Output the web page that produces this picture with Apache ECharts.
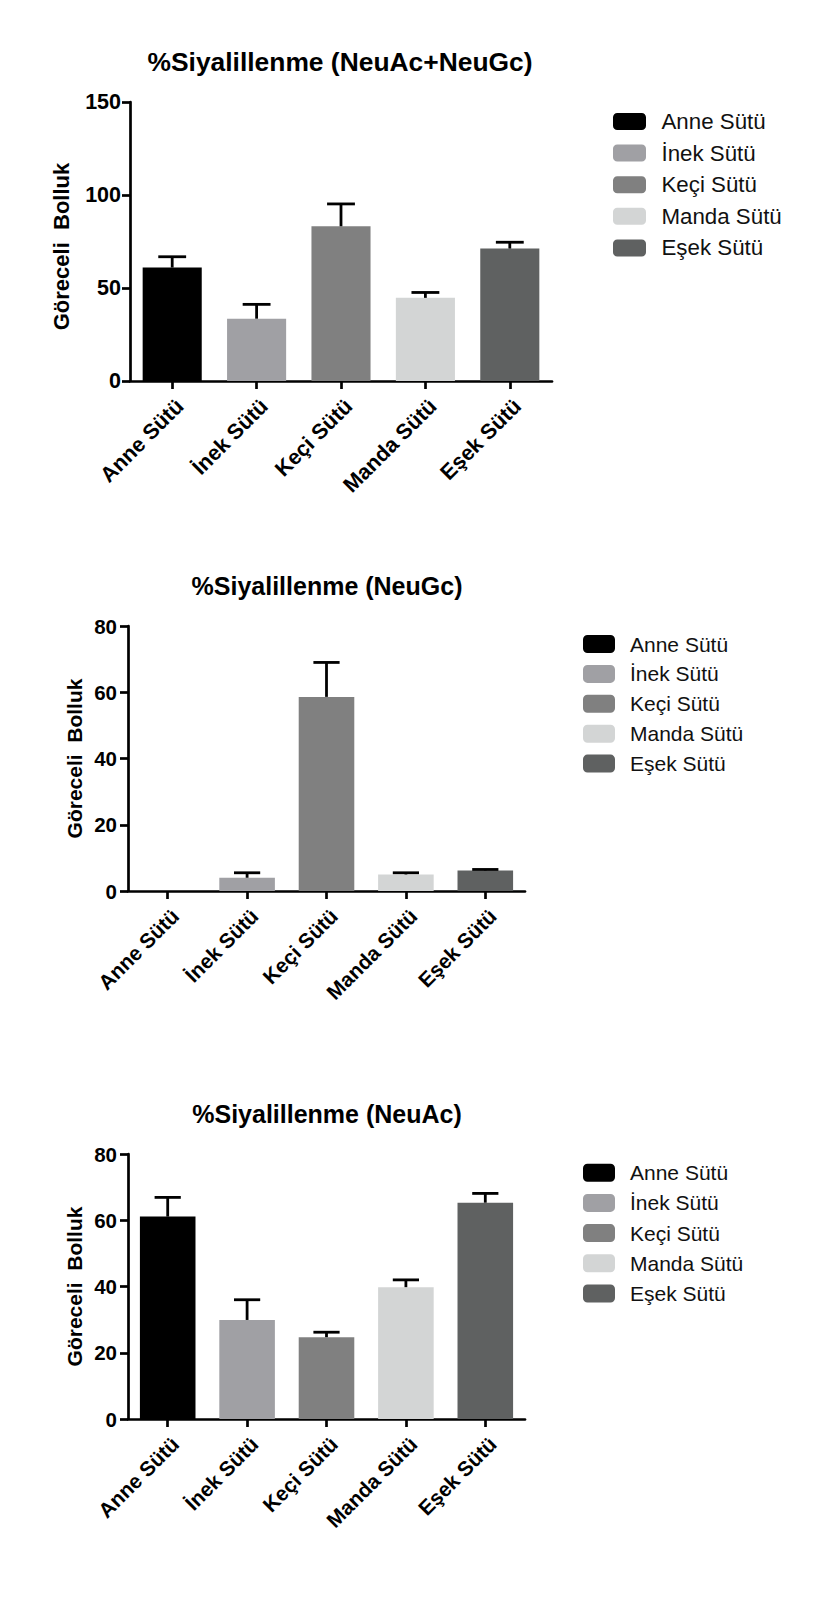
<!DOCTYPE html>
<html>
<head>
<meta charset="utf-8">
<script src="https://cdn.jsdelivr.net/npm/echarts@6/dist/echarts.min.js"></script>
<style>
html,body{margin:0;padding:0;background:#ffffff;}
#c{width:813px;height:1597px;}
</style>
</head>
<body>
<div id="c"></div>
<script>
// ---------- data ----------
const categories = ['Anne Sütü', 'İnek Sütü', 'Keçi Sütü', 'Manda Sütü', 'Eşek Sütü'];
const barColors = ['#000000', '#a0a0a4', '#808080', '#d3d5d5', '#5f6161'];

const titles = ['%Siyalillenme (NeuAc+NeuGc)', '%Siyalillenme (NeuGc)', '%Siyalillenme (NeuAc)'];
const yAxisName = 'Göreceli  Bolluk';

// mean values and standard deviations (upper error bar only)
const totalMean = [61.0, 33.5, 83.2, 44.7, 71.2];
const totalSD   = [5.8, 7.7, 12.0, 2.9, 3.4];

const neugcMean = [0, 4.0, 58.6, 5.0, 6.2];
const neugcSD   = [0, 1.5, 10.4, 0.5, 0.3];

const neuacMean = [61.1, 29.9, 24.7, 39.8, 65.3];
const neuacSD   = [5.8, 6.1, 1.5, 2.2, 2.8];

// y tick labels
const yTicksTotal = [0, 50, 100, 150];
const yTicksNeuGc = [0, 20, 40, 60, 80];
const yTicksNeuAc = [0, 20, 40, 60, 80];

// ---------- layout ----------
const FONT = '"Liberation Sans", Arial, Helvetica, sans-serif';
const panels = [
  { title: titles[0], mean: totalMean, sd: totalSD, ticks: yTicksTotal,
    grid: { left: 130, top: 102, width: 422, height: 279 },
    titleX: 335, titleTop: 44, titleFs: 26.4, tickFs: 21.5, xFs: 21.5, xMargin: 14, nameFs: 22, nameGap: 58, namePad: [0, 10, 0, 0],
    yLabelMargin: 9, legend: { left: 613, top: 110.5, iw: 33, ih: 17, gap: 9.6, fs: 22.3, pad: 10.5 } },
  { title: titles[1], mean: neugcMean, sd: neugcSD, ticks: yTicksNeuGc,
    grid: { left: 128, top: 626, width: 397, height: 265 },
    titleX: 322, titleTop: 568, titleFs: 25, tickFs: 20.5, xFs: 20.8, xMargin: 14, nameFs: 21, nameGap: 43, namePad: [0, 0, 0, 0],
    yLabelMargin: 11, legend: { left: 583, top: 633.5, iw: 32, ih: 18, gap: 8.9, fs: 21, pad: 10 } },
  { title: titles[2], mean: neuacMean, sd: neuacSD, ticks: yTicksNeuAc,
    grid: { left: 128, top: 1154, width: 397, height: 265 },
    titleX: 322, titleTop: 1096, titleFs: 25, tickFs: 20.5, xFs: 20.8, xMargin: 14, nameFs: 21, nameGap: 43, namePad: [0, 0, 0, 0],
    yLabelMargin: 11, legend: { left: 583, top: 1162.2, iw: 32, ih: 18, gap: 9.2, fs: 21, pad: 10 } }
];

const option = {
  backgroundColor: '#ffffff',
  animation: false,
  textStyle: { fontFamily: FONT },
  title: [], grid: [], xAxis: [], yAxis: [], legend: [], series: []
};

panels.forEach((p, pi) => {
  option.title.push({
    text: p.title, left: p.titleX, top: p.titleTop, textAlign: 'center',
    textStyle: { fontFamily: FONT, fontSize: p.titleFs, fontWeight: 'bold', color: '#000' }
  });
  option.grid.push(Object.assign({ containLabel: false }, p.grid));
  option.xAxis.push({
    type: 'category', gridIndex: pi, data: categories, boundaryGap: true,
    axisLine: { show: true, lineStyle: { color: '#000', width: 2.7 } },
    axisTick: { show: true, alignWithLabel: true, length: 8, lineStyle: { color: '#000', width: 2.7 } },
    axisLabel: { interval: 0, rotate: 45, margin: p.xMargin, align: 'right', verticalAlign: 'top',
      fontFamily: FONT, fontSize: p.xFs, fontWeight: 'bold', color: '#000' },
    splitLine: { show: false }
  });
  const t = p.ticks;
  option.yAxis.push({
    type: 'value', gridIndex: pi, min: t[0], max: t[t.length - 1], interval: t[1] - t[0],
    name: yAxisName, nameLocation: 'middle', nameRotate: 90, nameGap: p.nameGap,
    nameTextStyle: { fontFamily: FONT, fontSize: p.nameFs, fontWeight: 'bold', color: '#000', padding: p.namePad },
    axisLine: { show: true, lineStyle: { color: '#000', width: 2.7 } },
    axisTick: { show: true, length: 8, lineStyle: { color: '#000', width: 2.7 } },
    axisLabel: { margin: p.yLabelMargin, fontFamily: FONT, fontSize: p.tickFs, fontWeight: 'bold', color: '#000' },
    splitLine: { show: false }
  });
  option.legend.push({
    orient: 'vertical', left: p.legend.left, top: p.legend.top, padding: 0,
    itemWidth: p.legend.iw, itemHeight: p.legend.ih, itemGap: p.legend.gap,
    icon: 'roundRect', data: categories, selectedMode: false,
    textStyle: { fontFamily: FONT, fontSize: p.legend.fs, color: '#111',
      padding: [0, 0, 0, p.legend.pad] }
  });
  categories.forEach((c, ci) => {
    option.series.push({
      type: 'bar', name: c, xAxisIndex: pi, yAxisIndex: pi, stack: 'p' + pi,
      barWidth: '70%', itemStyle: { color: barColors[ci] },
      data: categories.map((_, k) => (k === ci ? p.mean[k] : '-'))
    });
  });
  const errData = [];
  p.mean.forEach((m, k) => { if (p.sd[k] > 0) errData.push([k, m, m + p.sd[k]]); });
  option.series.push({
    type: 'custom', name: 'err' + pi, xAxisIndex: pi, yAxisIndex: pi, z: 5,
    data: errData,
    renderItem: function (params, api) {
      const idx = api.value(0);
      const p0 = api.coord([idx, api.value(1)]);
      const p1 = api.coord([idx, api.value(2)]);
      const half = api.size([1, 0])[0] * 0.165;
      const st = { stroke: '#000', lineWidth: 2.8, fill: null };
      return { type: 'group', children: [
        { type: 'line', shape: { x1: p0[0], y1: p0[1], x2: p1[0], y2: p1[1] }, style: st },
        { type: 'line', shape: { x1: p1[0] - half, y1: p1[1], x2: p1[0] + half, y2: p1[1] }, style: st }
      ] };
    }
  });
});

const chart = echarts.init(document.getElementById('c'), null, { renderer: 'svg', width: 813, height: 1597 });
chart.setOption(option);
</script>
</body>
</html>
